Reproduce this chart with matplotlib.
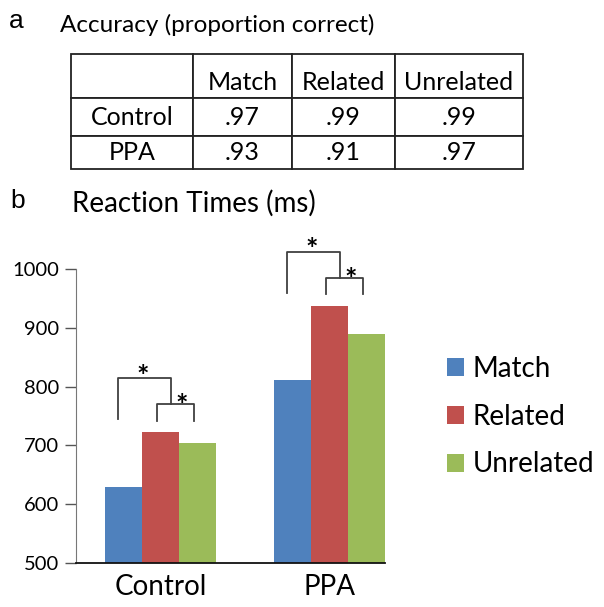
import matplotlib
matplotlib.use("Agg")
import matplotlib.pyplot as plt
from matplotlib.patches import Patch

plt.rcParams['font.family'] = ['Lato', 'DejaVu Sans']

# data
groups = ['Control', 'PPA']
conditions = ['Match', 'Related', 'Unrelated']
colors = ['#4F81BD', '#C0504D', '#9BBB59']
rt = {
    'Match':     [629, 811],
    'Related':   [722, 937],
    'Unrelated': [704, 889],
}
acc = {
    'Control': ['.97', '.99', '.99'],
    'PPA':     ['.93', '.91', '.97'],
}
yticks = [500, 600, 700, 800, 900, 1000]

W, H = 604, 607
fig = plt.figure(figsize=(W / 100, H / 100), dpi=100)

def fx(px):
    return px / W

def fy(py):
    return 1 - py / H

# panel labels / titles
fig.text(fx(9), fy(28), 'a', family='Liberation Sans', fontsize=19, va='baseline')
fig.text(fx(60), fy(32), 'Accuracy (proportion correct)', fontsize=17.5, va='baseline')
fig.text(fx(10), fy(208), 'b', family='Liberation Sans', fontsize=19, va='baseline')
fig.text(fx(72), fy(212), 'Reaction Times (ms)', fontsize=20, va='baseline')

# table a
col_w = [122, 99, 103, 128]
tax = fig.add_axes([fx(71), fy(169), fx(523 - 71), (169 - 54) / H])
tax.axis('off')
cell_text = [[''] + conditions] + [[g] + acc[g] for g in groups]
tbl = tax.table(cellText=cell_text, cellLoc='center',
                colWidths=col_w, bbox=[0, 0, 1, 1])
tbl.auto_set_font_size(False)
row_h = [44, 37, 33]
for (r, c), cell in tbl.get_celld().items():
    cell.set_height(row_h[r])
    cell.set_linewidth(1.3)
    cell.set_edgecolor('#222222')
    cell.get_text().set_fontsize(18)
    if r == 0:
        cell.get_text().set_visible(False)

# header labels sit low in their row
tot = sum(col_w)
left = 0
for c, txt in enumerate(cell_text[0]):
    tax.text((left + col_w[c] / 2) / tot, (169 - 90) / 115, txt, fontsize=18,
             ha='center', va='baseline', transform=tax.transAxes)
    left += col_w[c]

# bar chart b
ax = fig.add_axes([fx(76), fy(563), fx(385 - 76), (563 - 269) / H])
w = 0.22
x = [0, 1]
for i, cond in enumerate(conditions):
    ax.bar([xi + (i - 1) * w for xi in x], rt[cond], width=w, color=colors[i],
           zorder=2)

ax.set_ylim(500, 1000)
ax.set_xlim(-0.50, 1.33)
ax.set_yticks(yticks)
ax.set_xticks(x)
ax.set_xticklabels(groups, fontsize=20)
ax.tick_params(axis='y', labelsize=14.5, length=8, width=1, color='#555555', pad=4)
ax.tick_params(axis='x', length=0, pad=8)
for s in ['top', 'right']:
    ax.spines[s].set_visible(False)
ax.spines['left'].set_color('#777777')
ax.spines['bottom'].set_color('#111111')
ax.spines['bottom'].set_linewidth(1.3)

# significance brackets
bc = '#404040'
for xi in x:
    top = max(rt[c][xi] for c in conditions)
    leg = top + 20
    small_top = top + 48
    big_top = top + 92
    ax.plot([xi - w - 0.032, xi - w - 0.032, xi + 0.062, xi + 0.062],
            [leg + 3, big_top, big_top, small_top],
            color=bc, lw=1.3, clip_on=False)
    ax.plot([xi - 0.022, xi - 0.022, xi + w - 0.022, xi + w - 0.022],
            [leg, small_top, small_top, leg],
            color=bc, lw=1.3, clip_on=False)
    ax.text(xi - 0.105, big_top + 3, '*', fontsize=21, fontweight='bold',
            ha='center', va='center', clip_on=False)
    ax.text(xi + 0.125, small_top - 3, '*', fontsize=21, fontweight='bold',
            ha='center', va='center', clip_on=False)

handles = [Patch(facecolor=colors[i], label=c) for i, c in enumerate(conditions)]
fig.legend(handles=handles, loc='upper left', bbox_to_anchor=(fx(436), fy(345)),
           frameon=False, fontsize=20, handlelength=0.62, handleheight=0.62,
           handletextpad=0.3, labelspacing=0.78, borderaxespad=0)

fig.savefig('out.png', dpi=100)
